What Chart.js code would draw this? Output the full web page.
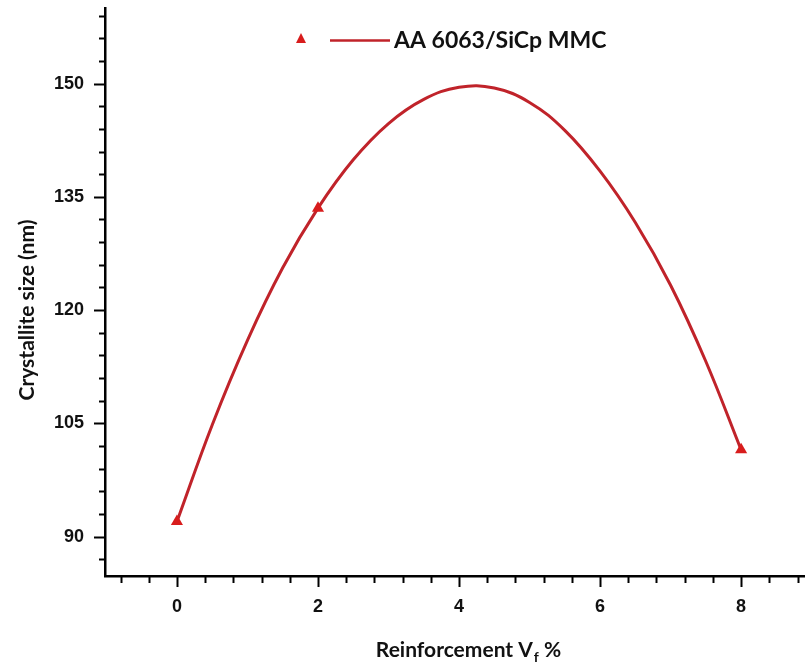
<!DOCTYPE html>
<html>
<head>
<meta charset="utf-8">
<script src="https://cdn.jsdelivr.net/npm/chart.js@4/dist/chart.umd.min.js"></script>
<style>
  html, body { margin: 0; padding: 0; background: #fff; overflow: hidden; }
  #wrap { width: 813px; height: 666px; position: relative; }
</style>
</head>
<body>
<div id="wrap"><canvas id="chart"></canvas></div>
<script>
// measured samples
const sampleX = [0, 2, 8];
const sampleY = [92, 133.5, 101.5];

// fitted curve
const fitX = [0, 0.5, 1, 1.5, 2, 2.5, 3, 3.5, 4, 4.5, 5, 5.5, 6, 6.5, 7, 7.5, 8];
const fitY = [92, 104.8, 116, 125.6, 133.5, 139.9, 144.7, 147.9, 149.5, 149.4, 147.5, 143.8, 138.4, 131.6, 123.3, 113.2, 101.5];

const xTicks = [0, 2, 4, 6, 8];
const yTicks = [90, 105, 120, 135, 150];

const seriesName = 'AA 6063/SiCp MMC';
const lineColor = '#c0232a';
const markerColor = '#d81c1c';

const titleFamily = 'Lato, "Open Sans", sans-serif';
const legendFont = 'bold 23px ' + titleFamily;
const titleFont = 'bold 21px ' + titleFamily;
const subFont = 'bold 14px ' + titleFamily;

// ticks, legend and axis titles
const decorPlugin = {
    id: 'decor',
    afterDraw(chart) {
        const { ctx, scales: { x, y }, chartArea } = chart;
        ctx.save();
        ctx.strokeStyle = '#000';
        ctx.lineWidth = 2;

        // y ticks (major every 15, minor every 3)
        for (let v = 87; v <= y.max + 0.01; v += 3) {
            const py = Math.round(y.getPixelForValue(v)) + 0.5;
            const len = v % 15 === 0 ? 11 : 6;
            ctx.beginPath();
            ctx.moveTo(chartArea.left, py);
            ctx.lineTo(chartArea.left - len, py);
            ctx.stroke();
        }
        // x ticks (major every 2, minor every 0.4)
        for (let i = -2; i <= 22; i++) {
            const v = i * 0.4;
            if (v < x.min - 0.01 || v > x.max) continue;
            const px = Math.round(x.getPixelForValue(v)) + 0.5;
            const len = i % 5 === 0 ? 11 : 7;
            ctx.beginPath();
            ctx.moveTo(px, chartArea.bottom);
            ctx.lineTo(px, chartArea.bottom + len);
            ctx.stroke();
        }

        // legend
        ctx.fillStyle = markerColor;
        ctx.beginPath();
        ctx.moveTo(301, 33);
        ctx.lineTo(306, 43);
        ctx.lineTo(296, 43);
        ctx.closePath();
        ctx.fill();
        ctx.strokeStyle = lineColor;
        ctx.lineWidth = 2.5;
        ctx.beginPath();
        ctx.moveTo(330, 40.5);
        ctx.lineTo(390, 40.5);
        ctx.stroke();
        ctx.fillStyle = '#111';
        ctx.font = legendFont;
        ctx.textAlign = 'left';
        ctx.textBaseline = 'middle';
        ctx.fillText(seriesName, 394, 41);

        // y title
        ctx.font = titleFont;
        ctx.save();
        ctx.translate(27, 310);
        ctx.rotate(-Math.PI / 2);
        ctx.textAlign = 'center';
        ctx.textBaseline = 'middle';
        ctx.fillText('Crystallite size (nm)', 0, 0);
        ctx.restore();

        // x title with subscript
        const partA = 'Reinforcement V';
        const partB = 'f';
        const partC = ' %';
        ctx.font = titleFont;
        const wA = ctx.measureText(partA).width;
        const wC = ctx.measureText(partC).width;
        ctx.font = subFont;
        const wB = ctx.measureText(partB).width;
        const total = wA + wB + wC;
        const sx = 468 - total / 2;
        const base = 657;
        ctx.textAlign = 'left';
        ctx.textBaseline = 'alphabetic';
        ctx.font = titleFont;
        ctx.fillText(partA, sx, base);
        ctx.font = subFont;
        ctx.fillText(partB, sx + wA + 1, base + 5);
        ctx.font = titleFont;
        ctx.fillText(partC, sx + wA + wB + 1, base);

        ctx.restore();
    }
};

new Chart(document.getElementById('chart').getContext('2d'), {
    type: 'scatter',
    data: {
        datasets: [
            {
                label: seriesName,
                data: sampleX.map((v, i) => ({ x: v, y: sampleY[i] })),
                pointStyle: 'triangle',
                pointRadius: 7,
                backgroundColor: markerColor,
                borderColor: markerColor,
                borderWidth: 0,
                showLine: false
            },
            {
                label: 'fit',
                data: fitX.map((v, i) => ({ x: v, y: fitY[i] })),
                showLine: true,
                borderColor: lineColor,
                borderWidth: 3,
                pointRadius: 0,
                tension: 0.4,
                fill: false
            }
        ]
    },
    options: {
        responsive: true,
        maintainAspectRatio: false,
        animation: false,
        layout: { padding: { top: 8, right: 0, left: 0, bottom: 0 } },
        plugins: {
            legend: { display: false },
            tooltip: { enabled: false }
        },
        scales: {
            x: {
                type: 'linear',
                min: -1.02,
                max: 8.92,
                afterBuildTicks: s => { s.ticks = xTicks.map(v => ({ value: v })); },
                afterFit: s => { s.height = 90; s.paddingLeft = 0; s.paddingRight = 0; },
                grid: { display: false, drawTicks: false },
                border: { display: true, color: '#000', width: 2.5 },
                ticks: {
                    color: '#111',
                    font: { family: '"Liberation Sans", Arial, sans-serif', size: 18, weight: 'bold' },
                    padding: 20,
                    maxRotation: 0
                }
            },
            y: {
                min: 84.8,
                max: 160,
                afterBuildTicks: s => { s.ticks = yTicks.map(v => ({ value: v })); },
                afterFit: s => { s.width = 105; s.paddingTop = 0; s.paddingBottom = 0; },
                grid: { display: false, drawTicks: false },
                border: { display: true, color: '#000', width: 2.5 },
                ticks: {
                    color: '#111',
                    font: { family: '"Liberation Sans", Arial, sans-serif', size: 18, weight: 'bold' },
                    padding: 21
                }
            }
        }
    },
    plugins: [decorPlugin]
});
</script>
</body>
</html>
